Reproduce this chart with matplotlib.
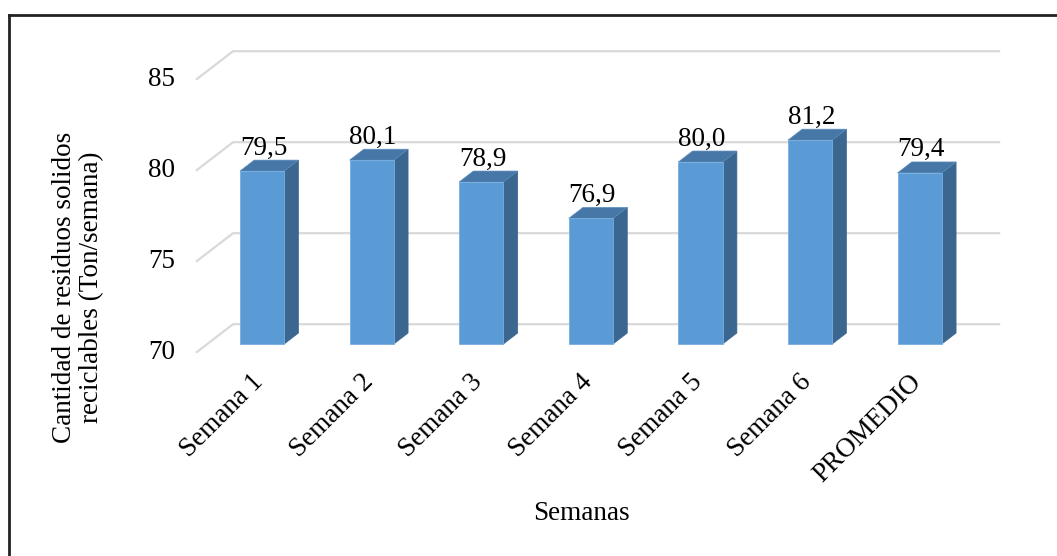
import matplotlib
matplotlib.use("Agg")
import matplotlib.pyplot as plt
from matplotlib.patches import Polygon
from matplotlib.lines import Line2D

categories = ["Semana 1", "Semana 2", "Semana 3", "Semana 4", "Semana 5", "Semana 6", "PROMEDIO"]
values = [79.5, 80.1, 78.9, 76.9, 80.0, 81.2, 79.4]
value_labels = ["79,5", "80,1", "78,9", "76,9", "80,0", "81,2", "79,4"]
yticks = [70, 75, 80, 85]
ylabel = "Cantidad de residuos solidos\nreciclables (Ton/semana)"
xlabel = "Semanas"

plt.rcParams['font.family'] = ['Liberation Serif', 'DejaVu Serif']
FS = 19.5

W, H, DPI = 1057, 556, 100
fig = plt.figure(figsize=(W / DPI, H / DPI), dpi=DPI)
ax = fig.add_axes([0, 0, 1, 1])
ax.set_axis_off()

# pixel geometry of the pseudo-3D box
x0_px, cat_px = 196.0, 109.6
floor_px, unit_px = 352.7, 18.2
ax.set_xlim(-0.5 - x0_px / cat_px, -0.5 + (W - x0_px) / cat_px)
ax.set_ylim(70 - (H - floor_px) / unit_px, 70 + floor_px / unit_px)

Dx = 37.0 / cat_px       # full depth offset in category units
Dy = 28.5 / unit_px      # full depth offset in value units
fb = 0.305               # bar front depth fraction
bd = 0.385               # bar depth fraction
bw = 44.3 / cat_px       # bar width
base = yticks[0]
n = len(categories)
left_edge = -0.5
right_edge = n - 0.5

grid_c = "#D9D9D9"
for v in yticks:
    ax.plot([left_edge, left_edge + Dx, right_edge + Dx], [v, v + Dy, v + Dy],
            color=grid_c, lw=1.6, solid_capstyle='butt', zorder=1)
    ax.annotate(str(v), xy=(left_edge, v), xytext=(-15, 0), textcoords='offset points',
                ha='right', va='center', fontsize=FS, color='black')

front_c = "#5B9BD5"
side_c = "#3A6690"
top_c = "#4677A6"
xs = [i + fb * Dx for i in range(n)]
bottom = base + fb * Dy
ax.bar(xs, [v - base for v in values], width=bw, bottom=bottom, color=front_c,
       edgecolor="#78AEE0", linewidth=0.6, zorder=3)
bdx, bdy = bd * Dx, bd * Dy
for x, v, lab in zip(xs, values, value_labels):
    xl, xr = x - bw / 2, x + bw / 2
    top = v + fb * Dy
    side = Polygon([(xr, bottom), (xr + bdx, bottom + bdy), (xr + bdx, top + bdy), (xr, top)],
                   closed=True, facecolor=side_c, edgecolor=side_c, lw=0.5, zorder=2)
    topf = Polygon([(xl, top), (xr, top), (xr + bdx, top + bdy), (xl + bdx, top + bdy)],
                   closed=True, facecolor=top_c, edgecolor="#5A8CC0", lw=0.5, zorder=2)
    ax.add_patch(side)
    ax.add_patch(topf)
    ax.annotate(lab, xy=(x, top + bdy), xytext=(1, 4), textcoords='offset points',
                ha='center', va='baseline', fontsize=FS, color='black')

for i, c in enumerate(categories):
    ax.annotate(c, xy=(i, base), xytext=(0, -12), textcoords='offset points',
                ha='right', va='top', rotation=45, rotation_mode='anchor',
                fontsize=FS, color='black')

fig.text(78 / W, 1 - 287 / H, ylabel, rotation=90, ha='center', va='center',
         multialignment='center', fontsize=FS, linespacing=1.07)
fig.text(581 / W, 1 - 514 / H, xlabel, ha='center', va='center', fontsize=FS)

# outer frame (top and left edges visible)
fig.add_artist(Line2D([9 / W, 1.0], [1 - 15 / H, 1 - 15 / H], transform=fig.transFigure,
                      color='#222222', lw=2.0))
fig.add_artist(Line2D([9 / W, 9 / W], [0, 1 - 15 / H], transform=fig.transFigure,
                      color='#222222', lw=2.0))

fig.savefig("out.png", dpi=DPI, facecolor='white')
